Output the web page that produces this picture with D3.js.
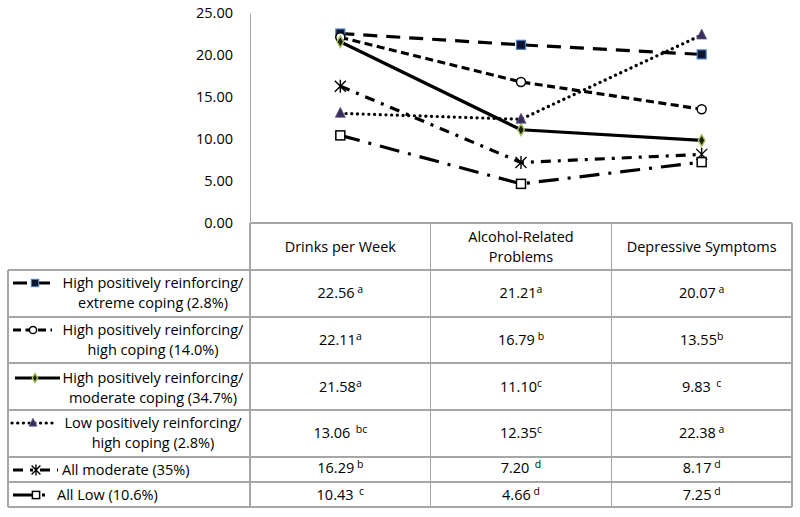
<!DOCTYPE html>
<html>
<head>
<meta charset="utf-8">
<script src="https://cdn.jsdelivr.net/npm/d3@7"></script>
<style>
  html, body { margin: 0; padding: 0; background: #fff; }
  svg { display: block; }
  text { font-family: "Open Sans", sans-serif; fill: #000; }
</style>
</head>
<body>
<svg id="chart" width="800" height="517"></svg>
<script>
// ---------------- DATA ----------------
const categories = ["Drinks per Week", "Alcohol-Related\nProblems", "Depressive Symptoms"];
const seriesNames = [
  "High positively reinforcing/\nextreme coping (2.8%)",
  "High positively reinforcing/\nhigh coping (14.0%)",
  "High positively reinforcing/\nmoderate coping (34.7%)",
  "Low positively reinforcing/\nhigh coping (2.8%)",
  "All moderate (35%)",
  "All Low (10.6%)"
];
const extremeCoping   = [22.56, 21.21, 20.07];
const highCoping      = [22.11, 16.79, 13.55];
const moderateCoping  = [21.58, 11.10, 9.83];
const lowPosHighCope  = [13.06, 12.35, 22.38];
const allModerate     = [16.29, 7.20, 8.17];
const allLow          = [10.43, 4.66, 7.25];
const supExtreme  = [" a", "a", " a"];
const supHigh     = ["a", " b", "b"];
const supModerate = ["a", "c", "  c"];
const supLowPos   = ["  bc", "c", " a"];
const supAllMod   = [" b", "  d", " d"];
const supAllLow   = ["  c", " d", " d"];
const yTicks = [0, 5, 10, 15, 20, 25];

const seriesValues = [extremeCoping, highCoping, moderateCoping, lowPosHighCope, allModerate, allLow];
const seriesSups = [supExtreme, supHigh, supModerate, supLowPos, supAllMod, supAllLow];

// ---------------- STYLE / LAYOUT ----------------
const grid = "#a6a6a6";
const styles = [
  { dash: "14,9", cap: "butt", marker: "square" },
  { dash: "8,4.5", cap: "butt", marker: "circle" },
  { dash: null, cap: "butt", marker: "diamond" },
  { dash: "0.1,5.6", cap: "round", marker: "triangle" },
  { dash: "10,7,3,7", cap: "butt", marker: "star" },
  { dash: "20,9,3,9", cap: "butt", marker: "opensquare" }
];
const rowBounds = [270, 317, 363, 410, 457, 482, 507];
const rowTextY = [[283, 303], [330, 350], [378, 398], [423, 443], [470], [495]];
const rowValueY = [293, 340, 387, 433, 468, 495];
const legendSym = [
  { x0: 13, x1: 52, mx: 35 },
  { x0: 13, x1: 52, mx: 33 },
  { x0: 15, x1: 60, mx: 35 },
  { x0: 12, x1: 53, mx: 33 },
  { x0: 13, x1: 58, mx: 36 },
  { x0: 13, x1: 53, mx: 36 }
];

const svg = d3.select("#chart");
const x = d3.scaleBand().domain(categories).range([250, 792]).padding(0);
const y = d3.scaleLinear().domain([0, 25]).range([223, 13]);
const fmt = d3.format(".2f");

// y axis
const yAxis = d3.axisLeft(y).tickValues(yTicks).tickFormat(fmt).tickSize(0).tickPadding(17);
const gy = svg.append("g").attr("transform", "translate(250,0)").call(yAxis);
gy.select(".domain").attr("stroke", grid).attr("stroke-width", 1);
gy.selectAll(".tick text").style("font-size", "14.5px").style("font-family", "'Open Sans', sans-serif").attr("fill", "#000");

// table grid
const xLeft = 8, xRight = 792;
const tbl = svg.append("g").attr("stroke", grid).attr("stroke-width", 1.2).attr("shape-rendering", "crispEdges");
tbl.append("line").attr("x1", 250).attr("x2", xRight).attr("y1", y(0)).attr("y2", y(0));
rowBounds.forEach(r => tbl.append("line").attr("x1", xLeft).attr("x2", xRight).attr("y1", r).attr("y2", r));
const colEdges = [250].concat(categories.map(c => x(c) + x.bandwidth()));
colEdges.forEach(cx => tbl.append("line").attr("x1", cx).attr("x2", cx).attr("y1", y(0)).attr("y2", rowBounds[rowBounds.length - 1]));
tbl.append("line").attr("x1", xLeft).attr("x2", xLeft).attr("y1", rowBounds[0]).attr("y2", rowBounds[rowBounds.length - 1]);

// header text
categories.forEach(c => {
  const lines = c.split("\n");
  const cy = (y(0) + rowBounds[0]) / 2;
  const lh = 20;
  lines.forEach((ln, i) => {
    svg.append("text")
      .attr("x", x(c) + x.bandwidth() / 2)
      .attr("y", cy + (i - (lines.length - 1) / 2) * lh)
      .attr("dy", "0.35em")
      .attr("text-anchor", "middle")
      .style("font-size", "14.5px")
      .text(ln);
  });
});

// marker drawing
function drawMarker(g, type, cx, cy, scale) {
  const s = scale || 1;
  if (type === "square") {
    const a = 9 * s;
    g.append("rect").attr("x", cx - a / 2).attr("y", cy - a / 2).attr("width", a).attr("height", a)
      .attr("fill", "#0f1530").attr("stroke", "#4a7ebb").attr("stroke-width", 1.2);
  } else if (type === "circle") {
    g.append("circle").attr("cx", cx).attr("cy", cy).attr("r", 4.5 * s)
      .attr("fill", "#fff").attr("stroke", "#000").attr("stroke-width", 1.5);
  } else if (type === "diamond") {
    g.append("path").attr("transform", `translate(${cx},${cy})`)
      .attr("d", d3.symbol(d3.symbolDiamond, 40 * s * s)())
      .attr("fill", "#1a2208").attr("stroke", "#a9c25e").attr("stroke-width", 1.4);
  } else if (type === "triangle") {
    const h = 10 * s, w = 10 * s;
    g.append("path").attr("d", `M${cx},${cy - h * 0.6}L${cx + w / 2},${cy + h * 0.4}L${cx - w / 2},${cy + h * 0.4}Z`)
      .attr("fill", "#3b2d5a").attr("stroke", "#6a5a8c").attr("stroke-width", 0.8);
  } else if (type === "star") {
    const r = 5.5 * s;
    g.append("path").attr("d", `M${cx - r},${cy - r}L${cx + r},${cy + r}M${cx + r},${cy - r}L${cx - r},${cy + r}M${cx},${cy - r - 1}L${cx},${cy + r + 1}`)
      .attr("fill", "none").attr("stroke", "#000").attr("stroke-width", 1.4);
  } else if (type === "opensquare") {
    const a = 9 * s;
    g.append("rect").attr("x", cx - a / 2).attr("y", cy - a / 2).attr("width", a).attr("height", a)
      .attr("fill", "#fff").attr("stroke", "#000").attr("stroke-width", 1.5);
  }
}

// lines
const line = d3.line().x((d, i) => x(categories[i]) + x.bandwidth() / 2).y(d => y(d));
const gLines = svg.append("g");
seriesValues.forEach((vals, si) => {
  const st = styles[si];
  gLines.append("path").datum(vals).attr("d", line)
    .attr("fill", "none").attr("stroke", "#000").attr("stroke-width", 3.2)
    .attr("stroke-linecap", st.cap).attr("stroke-linejoin", "round")
    .attr("stroke-dasharray", st.dash);
});
const gMarks = svg.append("g");
seriesValues.forEach((vals, si) => {
  vals.forEach((v, i) => drawMarker(gMarks, styles[si].marker, x(categories[i]) + x.bandwidth() / 2, y(v), 1));
});

// legend rows + values
seriesNames.forEach((name, si) => {
  const st = styles[si];
  const ls = legendSym[si];
  const ly = rowTextY[si][0];
  svg.append("line").attr("x1", ls.x0).attr("x2", ls.x1).attr("y1", ly).attr("y2", ly)
    .attr("stroke", "#000").attr("stroke-width", 3.2).attr("stroke-linecap", st.cap)
    .attr("stroke-dasharray", st.dash);
  drawMarker(svg, st.marker, ls.mx, ly, 0.8);
  const lines = name.split("\n");
  lines.forEach((ln, i) => {
    const t = svg.append("text").attr("y", rowTextY[si][i]).attr("dy", "0.35em").style("font-size", "14.5px").text(ln);
    if (lines.length > 1) t.attr("x", 153).attr("text-anchor", "middle");
    else t.attr("x", si === 4 ? 62 : 57).attr("text-anchor", "start");
  });
  // values
  seriesValues[si].forEach((v, ci) => {
    const t = svg.append("text")
      .attr("x", x(categories[ci]) + x.bandwidth() / 2)
      .attr("y", rowValueY[si]).attr("dy", "0.35em")
      .attr("text-anchor", "middle")
      .style("white-space", "pre")
      .style("font-size", "14.5px");
    t.append("tspan").text(fmt(v));
    t.append("tspan").attr("dy", "-0.5em").style("font-size", "10.5px").text(seriesSups[si][ci]);
  });
});
</script>
</body>
</html>
